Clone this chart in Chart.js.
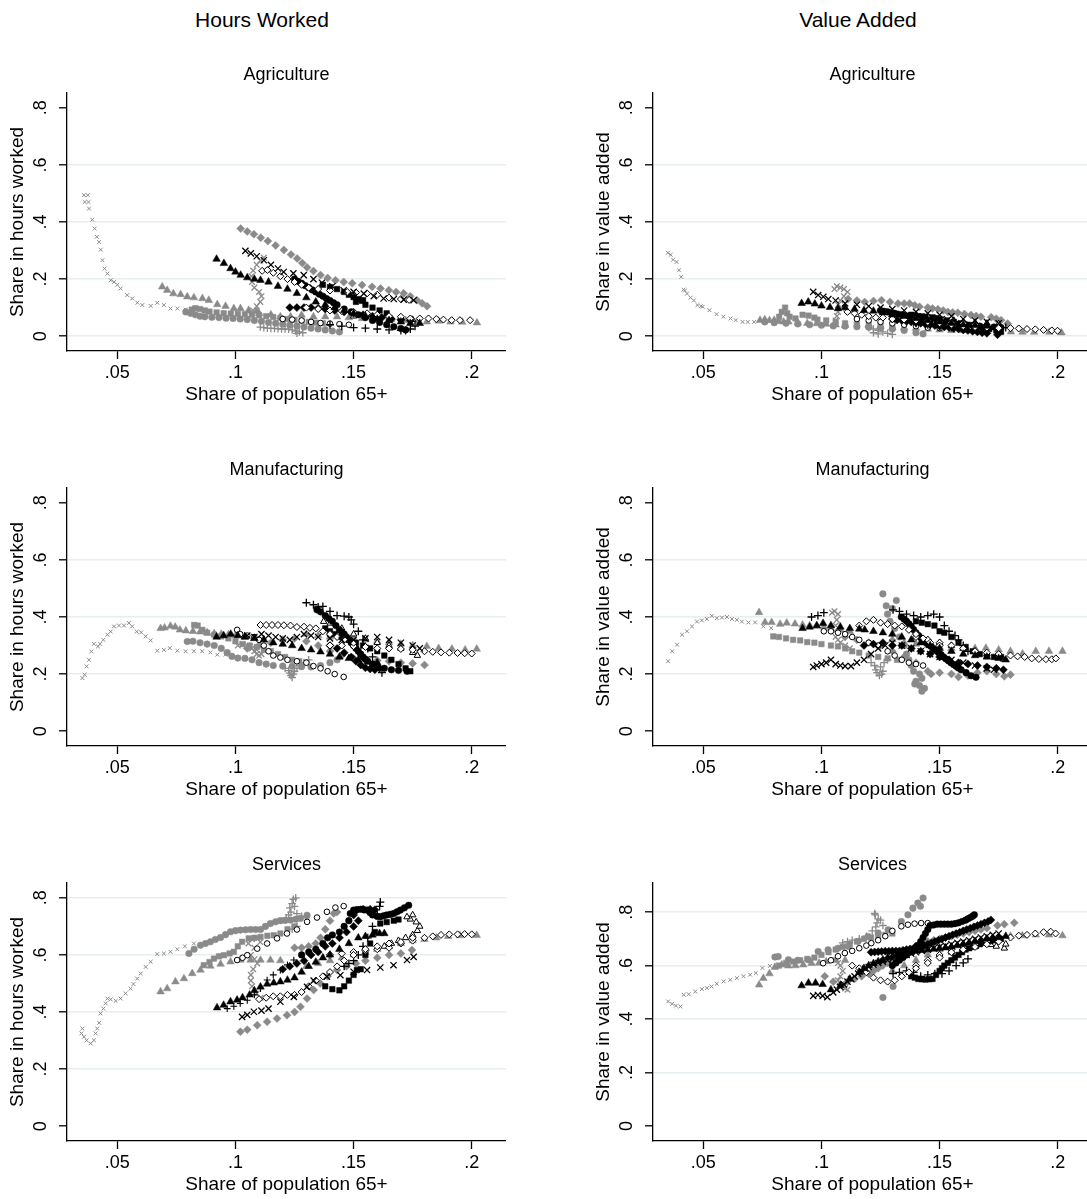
<!DOCTYPE html>
<html>
<head>
<meta charset="utf-8">
<script src="https://cdn.jsdelivr.net/npm/chart.js@4.4.1/dist/chart.umd.min.js"></script>
<style>
  body { margin:0; background:#fff; width:1087px; height:1199px; overflow:hidden; position:relative;
         font-family:"Liberation Sans", Arial, sans-serif; }
  .coltitle { position:absolute; top:8px; width:300px; text-align:center; font-size:21px; color:#000; }
  canvas { position:absolute; }
</style>
</head>
<body>
<div class="coltitle" style="left:112px">Hours Worked</div>
<div class="coltitle" style="left:708px">Value Added</div>

<canvas id="agriHours" width="506" height="347" style="left:0;top:62px"></canvas>
<canvas id="agriVA" width="506" height="347" style="left:586px;top:62px"></canvas>
<canvas id="manufHours" width="506" height="347" style="left:0;top:457px"></canvas>
<canvas id="manufVA" width="506" height="347" style="left:586px;top:457px"></canvas>
<canvas id="servHours" width="506" height="347" style="left:0;top:852px"></canvas>
<canvas id="servVA" width="506" height="347" style="left:586px;top:852px"></canvas>

<script>
// ticks
var xTickValues = [0.05, 0.1, 0.15, 0.2];
var xTickLabels = ['.05', '.1', '.15', '.2'];
var yTickValues = [0, 0.2, 0.4, 0.6, 0.8];
var yTickLabels = ['0', '.2', '.4', '.6', '.8'];

// ---- Agriculture, hours worked ----
var agriHours_grayX = [[0.0359,0.494],[0.0375,0.494],[0.0362,0.470],[0.0378,0.470],[0.038,0.447],[0.0394,0.408],[0.0404,0.377],[0.0413,0.348],[0.0423,0.330],[0.043,0.303],[0.0437,0.266],[0.0446,0.237],[0.0458,0.219],[0.0472,0.196],[0.0486,0.190],[0.050,0.180],[0.0514,0.167],[0.0542,0.144],[0.0563,0.132],[0.0585,0.117],[0.0606,0.109],[0.0641,0.106],[0.0669,0.117],[0.0697,0.109],[0.0725,0.097],[0.0754,0.097],[0.0789,0.093],[0.082,0.090]];
var agriHours_grayTriA = [[0.069,0.173],[0.0711,0.161],[0.0737,0.149],[0.0768,0.146],[0.0796,0.138],[0.0824,0.135],[0.086,0.132],[0.0887,0.126],[0.0923,0.111],[0.0958,0.105],[0.0993,0.097],[0.1021,0.097],[0.1056,0.091],[0.109,0.088]];
var agriHours_grayCirc = [[0.079,0.085],[0.081,0.08],[0.083,0.075],[0.085,0.07],[0.087,0.068],[0.09,0.066],[0.093,0.065],[0.096,0.063],[0.099,0.062],[0.102,0.06],[0.105,0.058],[0.108,0.055],[0.111,0.052],[0.114,0.048],[0.117,0.045],[0.12,0.042],[0.123,0.038],[0.126,0.035],[0.129,0.032],[0.132,0.028],[0.135,0.025],[0.138,0.022],[0.141,0.018],[0.144,0.015]];
var agriHours_graySq = [[0.0815,0.093],[0.083,0.098],[0.085,0.095],[0.087,0.09],[0.089,0.086],[0.092,0.083],[0.095,0.08],[0.098,0.079],[0.101,0.078],[0.104,0.077],[0.107,0.075],[0.11,0.073],[0.113,0.07],[0.116,0.067],[0.119,0.064],[0.122,0.06],[0.125,0.057],[0.128,0.053],[0.131,0.05],[0.134,0.047],[0.137,0.045]];
var agriHours_grayDia = [[0.1022,0.377],[0.105,0.367],[0.1078,0.357],[0.1107,0.345],[0.1137,0.333],[0.117,0.318],[0.1205,0.302],[0.1235,0.286],[0.1261,0.272],[0.1283,0.256],[0.1303,0.241],[0.133,0.228],[0.136,0.214],[0.139,0.204],[0.1423,0.196],[0.1458,0.19],[0.1494,0.185],[0.1536,0.179],[0.1578,0.173],[0.1614,0.167],[0.1649,0.161],[0.168,0.155],[0.1712,0.15],[0.174,0.14],[0.1768,0.126],[0.179,0.115],[0.1811,0.105]];
var agriHours_grayStar = [[0.1065,0.075],[0.1075,0.09],[0.109,0.105],[0.1105,0.12],[0.111,0.14],[0.110,0.155],[0.108,0.17],[0.107,0.19],[0.1068,0.21],[0.1075,0.23],[0.109,0.25],[0.1105,0.265],[0.112,0.275]];
var agriHours_grayPlus = [[0.1105,0.032],[0.112,0.03],[0.1135,0.028],[0.115,0.027],[0.1165,0.027],[0.118,0.026],[0.1195,0.025],[0.121,0.025],[0.1225,0.024],[0.124,0.022],[0.1255,0.018],[0.127,0.015],[0.1285,0.012],[0.126,0.01]];
var agriHours_grayTriB = [[0.110,0.080],[0.115,0.075],[0.119,0.068],[0.1233,0.068],[0.128,0.074],[0.133,0.068],[0.138,0.068],[0.143,0.068],[0.148,0.065],[0.1536,0.062],[0.16,0.06],[0.166,0.058],[0.172,0.055],[0.177,0.052],[0.181,0.05],[0.186,0.053],[0.191,0.05],[0.196,0.049],[0.2022,0.047]];
var agriHours_blackTri = [[0.092,0.27],[0.0951,0.255],[0.0979,0.237],[0.100,0.225],[0.1022,0.214],[0.105,0.205],[0.108,0.2],[0.1106,0.196],[0.114,0.19],[0.118,0.175],[0.122,0.165],[0.126,0.15],[0.130,0.135],[0.134,0.12],[0.138,0.11],[0.142,0.1],[0.146,0.09],[0.15,0.08],[0.155,0.07],[0.16,0.06],[0.165,0.055],[0.17,0.05],[0.174,0.045],[0.178,0.045]];
var agriHours_blackX = [[0.1042,0.299],[0.1065,0.29],[0.109,0.28],[0.112,0.266],[0.115,0.25],[0.118,0.237],[0.1204,0.225],[0.1245,0.22],[0.1289,0.214],[0.133,0.2],[0.1366,0.187],[0.141,0.175],[0.1458,0.161],[0.15,0.155],[0.1543,0.149],[0.1585,0.14],[0.1627,0.132],[0.167,0.13],[0.1712,0.128],[0.1754,0.126]];
var agriHours_hollowDiaA = [[0.1113,0.229],[0.1135,0.232],[0.116,0.222],[0.119,0.21],[0.122,0.2],[0.125,0.19],[0.128,0.18],[0.131,0.17],[0.135,0.165],[0.14,0.16],[0.1473,0.155],[0.151,0.153],[0.1557,0.15],[0.16,0.145],[0.165,0.135],[0.17,0.13],[0.1735,0.127]];
var agriHours_hollowDiaB = [[0.13,0.1],[0.135,0.095],[0.14,0.09],[0.145,0.088],[0.15,0.085],[0.1557,0.08],[0.16,0.075],[0.165,0.07],[0.17,0.068],[0.174,0.062],[0.178,0.062],[0.1817,0.062],[0.185,0.06],[0.188,0.058],[0.1915,0.056],[0.195,0.056],[0.1993,0.056]];
var agriHours_blackCirc = [[0.125,0.2],[0.1265,0.192],[0.128,0.185],[0.1295,0.177],[0.131,0.17],[0.1325,0.162],[0.134,0.155],[0.1355,0.147],[0.137,0.14],[0.1385,0.132],[0.14,0.125],[0.1415,0.117],[0.143,0.11],[0.146,0.095],[0.149,0.085],[0.152,0.075],[0.155,0.065],[0.158,0.055],[0.161,0.048],[0.164,0.04],[0.167,0.033],[0.17,0.027],[0.172,0.022]];
var agriHours_blackSq = [[0.137,0.18],[0.14,0.172],[0.143,0.165],[0.146,0.155],[0.148,0.145],[0.15,0.137],[0.152,0.13],[0.154,0.126],[0.1535,0.124],[0.151,0.12],[0.155,0.11],[0.158,0.1],[0.161,0.09],[0.164,0.08]];
var agriHours_blackDia = [[0.123,0.1],[0.126,0.1],[0.129,0.1],[0.132,0.1],[0.135,0.098],[0.138,0.095],[0.142,0.09],[0.146,0.085],[0.15,0.08],[0.154,0.075],[0.158,0.07],[0.162,0.065],[0.166,0.06],[0.17,0.058],[0.174,0.055]];
var agriHours_blackPlus = [[0.14,0.04],[0.145,0.035],[0.15,0.03],[0.155,0.028],[0.16,0.025],[0.165,0.022],[0.17,0.02],[0.172,0.02],[0.174,0.025],[0.176,0.035]];
var agriHours_hollowCirc = [[0.12,0.06],[0.124,0.058],[0.128,0.055],[0.132,0.05],[0.136,0.046],[0.14,0.044],[0.144,0.042],[0.148,0.04]];
var agriHours_hollowTri = [[0.15,0.07],[0.155,0.068],[0.16,0.065],[0.165,0.062],[0.17,0.06],[0.175,0.058]];

// ---- Agriculture, value added ----
var agriVA_grayX = [[0.035,0.292],[0.0362,0.285],[0.0372,0.268],[0.0387,0.26],[0.0397,0.231],[0.0406,0.208],[0.0416,0.163],[0.0422,0.16],[0.0431,0.149],[0.0446,0.135],[0.046,0.125],[0.0475,0.109],[0.049,0.105],[0.0497,0.103],[0.0526,0.091],[0.0556,0.077],[0.0585,0.068],[0.0615,0.062],[0.0637,0.056],[0.0666,0.05],[0.0688,0.05],[0.0715,0.05]];
var agriVA_grayTriA = [[0.074,0.056],[0.076,0.058],[0.078,0.055],[0.08,0.056],[0.082,0.052],[0.084,0.05],[0.086,0.05],[0.09,0.047],[0.094,0.045],[0.098,0.044],[0.102,0.042],[0.106,0.04],[0.11,0.038]];
var agriVA_grayCirc = [[0.076,0.05],[0.08,0.047],[0.085,0.045],[0.09,0.043],[0.095,0.04],[0.1,0.038],[0.105,0.036],[0.11,0.035],[0.115,0.033],[0.12,0.031],[0.125,0.028],[0.13,0.025],[0.135,0.02],[0.14,0.012],[0.143,0.008]];
var agriVA_graySq = [[0.0821,0.068],[0.0832,0.085],[0.0846,0.1],[0.0855,0.08],[0.0865,0.068],[0.089,0.062],[0.092,0.075],[0.0945,0.072],[0.097,0.065],[0.0983,0.058],[0.102,0.055],[0.106,0.05],[0.11,0.045],[0.115,0.042],[0.12,0.04],[0.125,0.037],[0.13,0.035]];
var agriVA_grayDia = [[0.1113,0.13],[0.115,0.125],[0.1183,0.12],[0.122,0.123],[0.1254,0.126],[0.129,0.12],[0.1324,0.114],[0.135,0.114],[0.1373,0.114],[0.1395,0.108],[0.1415,0.103],[0.145,0.1],[0.147,0.097],[0.1493,0.094],[0.1515,0.09],[0.1535,0.085],[0.1555,0.083],[0.1577,0.082],[0.1605,0.078],[0.1633,0.074],[0.1655,0.071],[0.1675,0.068],[0.1718,0.066],[0.174,0.061],[0.176,0.056],[0.1788,0.044]];
var agriVA_grayStar = [[0.1055,0.165],[0.1065,0.175],[0.108,0.17],[0.1095,0.165],[0.111,0.155],[0.1095,0.14],[0.108,0.125],[0.107,0.11],[0.1085,0.1],[0.107,0.085],[0.1065,0.07],[0.106,0.055]];
var agriVA_grayPlus = [[0.12,0.03],[0.122,0.025],[0.124,0.02],[0.126,0.015],[0.128,0.01],[0.13,0.006],[0.124,0.008],[0.122,0.012]];
var agriVA_grayTriB = [[0.12,0.04],[0.125,0.035],[0.13,0.03],[0.135,0.03],[0.14,0.028],[0.145,0.025],[0.15,0.022],[0.155,0.02],[0.16,0.02],[0.165,0.018],[0.17,0.017],[0.175,0.016],[0.1802,0.015],[0.1851,0.014],[0.19,0.014],[0.1964,0.014],[0.2016,0.012]];
var agriVA_blackTri = [[0.0916,0.115],[0.0944,0.12],[0.0972,0.113],[0.1,0.106],[0.1036,0.101],[0.107,0.097],[0.11,0.1],[0.114,0.095],[0.118,0.09],[0.122,0.088],[0.126,0.082],[0.13,0.075],[0.135,0.07],[0.14,0.062],[0.145,0.055],[0.15,0.05],[0.155,0.045],[0.16,0.04],[0.165,0.038],[0.17,0.035]];
var agriVA_blackX = [[0.0965,0.155],[0.0986,0.144],[0.1008,0.138],[0.1029,0.13],[0.106,0.125],[0.11,0.115],[0.115,0.11],[0.12,0.105],[0.125,0.1],[0.13,0.095],[0.135,0.09],[0.14,0.085],[0.145,0.08],[0.15,0.075],[0.155,0.07],[0.16,0.06],[0.165,0.055],[0.17,0.05],[0.175,0.045]];
var agriVA_hollowDiaA = [[0.111,0.085],[0.114,0.08],[0.117,0.075],[0.12,0.07],[0.123,0.065],[0.126,0.065],[0.13,0.06],[0.135,0.058],[0.14,0.055],[0.145,0.05],[0.15,0.045],[0.155,0.04],[0.16,0.035],[0.165,0.032],[0.17,0.03],[0.175,0.028]];
var agriVA_hollowDiaB = [[0.13,0.07],[0.135,0.065],[0.14,0.06],[0.145,0.055],[0.15,0.05],[0.155,0.047],[0.16,0.045],[0.165,0.04],[0.17,0.035],[0.175,0.032],[0.18,0.028],[0.1835,0.027],[0.187,0.025],[0.1905,0.024],[0.194,0.022],[0.1975,0.02],[0.1999,0.019]];
var agriVA_blackCirc = [[0.125,0.09],[0.1265,0.087],[0.128,0.085],[0.1295,0.082],[0.131,0.08],[0.1325,0.077],[0.134,0.075],[0.1355,0.072],[0.137,0.07],[0.1385,0.067],[0.14,0.065],[0.1415,0.062],[0.143,0.06],[0.1445,0.057],[0.146,0.055],[0.149,0.05],[0.152,0.048],[0.155,0.045],[0.158,0.042],[0.161,0.04],[0.164,0.038],[0.167,0.035],[0.17,0.033],[0.173,0.032],[0.176,0.03]];
var agriVA_blackSq = [[0.138,0.075],[0.1395,0.072],[0.141,0.07],[0.1425,0.069],[0.144,0.068],[0.147,0.066],[0.1485,0.063],[0.15,0.06],[0.153,0.055],[0.156,0.05],[0.159,0.045],[0.162,0.04],[0.165,0.035],[0.168,0.03],[0.171,0.025],[0.174,0.02],[0.176,0.015]];
var agriVA_blackDia = [[0.13,0.06],[0.132,0.057],[0.134,0.055],[0.136,0.052],[0.138,0.05],[0.14,0.047],[0.142,0.045],[0.144,0.042],[0.146,0.04],[0.148,0.037],[0.15,0.035],[0.152,0.032],[0.154,0.03],[0.156,0.027],[0.158,0.025],[0.16,0.022],[0.162,0.02],[0.164,0.017],[0.166,0.015],[0.168,0.012],[0.17,0.01],[0.1745,0.005]];
var agriVA_blackPlus = [[0.14,0.045],[0.145,0.04],[0.15,0.035],[0.155,0.03],[0.16,0.028],[0.165,0.025],[0.17,0.022],[0.175,0.02],[0.178,0.03]];
var agriVA_hollowCirc = [[0.115,0.06],[0.12,0.055],[0.125,0.05],[0.13,0.045],[0.135,0.04],[0.14,0.035],[0.145,0.03],[0.15,0.028]];
var agriVA_hollowTri = [[0.148,0.06],[0.152,0.058],[0.156,0.055],[0.16,0.05],[0.165,0.048],[0.17,0.045],[0.175,0.043]];

// ---- Manufacturing, hours worked ----
var manufHours_grayX = [[0.0352,0.186],[0.0362,0.198],[0.037,0.227],[0.038,0.25],[0.039,0.279],[0.0401,0.306],[0.0418,0.297],[0.0427,0.306],[0.0441,0.32],[0.0458,0.338],[0.0472,0.349],[0.0486,0.367],[0.0507,0.37],[0.0528,0.37],[0.0549,0.379],[0.0563,0.367],[0.0582,0.349],[0.0601,0.346],[0.062,0.332],[0.0641,0.318],[0.0669,0.282],[0.0697,0.285],[0.0722,0.291],[0.0754,0.282],[0.0789,0.28],[0.0824,0.28],[0.0859,0.28],[0.0894,0.276],[0.0923,0.268],[0.0958,0.268]];
var manufHours_grayTriA = [[0.0683,0.36],[0.07,0.362],[0.0725,0.368],[0.0745,0.365],[0.0765,0.355],[0.079,0.352],[0.082,0.35],[0.085,0.348],[0.088,0.345],[0.091,0.342],[0.094,0.34],[0.097,0.338],[0.1,0.335],[0.104,0.33],[0.108,0.325],[0.112,0.32]];
var manufHours_grayCirc = [[0.0796,0.314],[0.082,0.315],[0.085,0.31],[0.088,0.305],[0.091,0.3],[0.094,0.29],[0.0965,0.275],[0.0985,0.262],[0.101,0.256],[0.104,0.255],[0.107,0.25],[0.11,0.24],[0.113,0.235],[0.116,0.23],[0.12,0.228],[0.124,0.227],[0.128,0.226],[0.132,0.225],[0.136,0.23],[0.14,0.24],[0.143,0.25]];
var manufHours_graySq = [[0.0825,0.372],[0.084,0.37],[0.086,0.355],[0.088,0.345],[0.091,0.338],[0.094,0.332],[0.097,0.325],[0.1,0.315],[0.103,0.305],[0.106,0.3],[0.109,0.295],[0.112,0.285],[0.115,0.28],[0.118,0.27],[0.121,0.26],[0.124,0.25],[0.127,0.245],[0.13,0.24]];
var manufHours_grayDia = [[0.105,0.29],[0.11,0.3],[0.115,0.31],[0.12,0.32],[0.125,0.325],[0.13,0.315],[0.135,0.3],[0.14,0.28],[0.145,0.265],[0.15,0.255],[0.155,0.25],[0.16,0.248],[0.165,0.245],[0.17,0.24],[0.175,0.237],[0.18,0.232]];
var manufHours_grayStar = [[0.101,0.3],[0.103,0.305],[0.105,0.3],[0.107,0.29],[0.108,0.28],[0.109,0.27],[0.11,0.265],[0.111,0.27],[0.109,0.285],[0.106,0.295]];
var manufHours_grayPlus = [[0.121,0.22],[0.1225,0.212],[0.123,0.203],[0.1235,0.195],[0.124,0.188],[0.1245,0.2],[0.125,0.21],[0.126,0.22],[0.127,0.23],[0.129,0.24],[0.131,0.25]];
var manufHours_grayTriB = [[0.13,0.34],[0.135,0.335],[0.14,0.33],[0.145,0.328],[0.15,0.325],[0.155,0.32],[0.16,0.315],[0.165,0.31],[0.17,0.305],[0.175,0.3],[0.181,0.297],[0.186,0.29],[0.1916,0.288],[0.1972,0.285],[0.2021,0.288]];
var manufHours_blackTri = [[0.092,0.33],[0.095,0.335],[0.098,0.34],[0.101,0.335],[0.104,0.33],[0.108,0.325],[0.112,0.32],[0.116,0.31],[0.12,0.305],[0.124,0.3],[0.128,0.29],[0.132,0.285],[0.136,0.278],[0.14,0.27],[0.144,0.26],[0.148,0.255],[0.152,0.25],[0.156,0.245],[0.16,0.24]];
var manufHours_blackX = [[0.105,0.335],[0.108,0.33],[0.111,0.34],[0.114,0.335],[0.117,0.33],[0.12,0.325],[0.123,0.32],[0.126,0.33],[0.129,0.34],[0.132,0.335],[0.135,0.33],[0.14,0.325],[0.145,0.32],[0.15,0.32],[0.155,0.325],[0.16,0.33],[0.165,0.32],[0.17,0.31],[0.175,0.3],[0.178,0.29]];
var manufHours_hollowDiaA = [[0.1106,0.372],[0.113,0.372],[0.1155,0.372],[0.118,0.372],[0.1205,0.371],[0.1233,0.37],[0.126,0.365],[0.129,0.366],[0.1315,0.362],[0.134,0.36],[0.137,0.35],[0.14,0.34],[0.143,0.33],[0.146,0.32],[0.15,0.31]];
var manufHours_hollowDiaB = [[0.14,0.3],[0.145,0.3],[0.15,0.298],[0.155,0.295],[0.16,0.29],[0.165,0.29],[0.17,0.288],[0.175,0.285],[0.18,0.28],[0.1835,0.278],[0.187,0.276],[0.1905,0.275],[0.194,0.274],[0.197,0.273],[0.2,0.272]];
var manufHours_blackCirc = [[0.1345,0.425],[0.136,0.418],[0.138,0.405],[0.1395,0.395],[0.141,0.385],[0.1425,0.37],[0.144,0.355],[0.145,0.347],[0.146,0.34],[0.147,0.33],[0.148,0.32],[0.149,0.31],[0.15,0.3],[0.151,0.29],[0.152,0.28],[0.153,0.27],[0.154,0.26],[0.155,0.252],[0.156,0.245],[0.158,0.235],[0.16,0.225],[0.163,0.22],[0.166,0.215],[0.169,0.213],[0.1726,0.21]];
var manufHours_blackSq = [[0.138,0.36],[0.14,0.35],[0.142,0.34],[0.145,0.33],[0.148,0.32],[0.151,0.31],[0.154,0.3],[0.157,0.29],[0.16,0.28],[0.163,0.265],[0.166,0.25],[0.169,0.235],[0.172,0.22],[0.174,0.21]];
var manufHours_blackDia = [[0.14,0.3],[0.143,0.29],[0.146,0.275],[0.149,0.26],[0.151,0.245],[0.153,0.232],[0.155,0.222],[0.157,0.218],[0.159,0.215],[0.161,0.22]];
var manufHours_blackPlus = [[0.13,0.45],[0.133,0.443],[0.135,0.435],[0.137,0.437],[0.14,0.42],[0.143,0.405],[0.146,0.403],[0.148,0.4],[0.149,0.39],[0.15,0.375],[0.152,0.35],[0.154,0.32],[0.156,0.29],[0.158,0.26],[0.16,0.23],[0.162,0.205]];
var manufHours_hollowCirc = [[0.1007,0.355],[0.102,0.34],[0.105,0.335],[0.108,0.33],[0.11,0.32],[0.112,0.3],[0.114,0.28],[0.116,0.265],[0.119,0.258],[0.122,0.25],[0.126,0.245],[0.13,0.24],[0.133,0.228],[0.136,0.22],[0.139,0.21],[0.142,0.2],[0.1458,0.19]];
var manufHours_hollowTri = [[0.1373,0.384],[0.1401,0.378],[0.145,0.36],[0.15,0.34],[0.155,0.325],[0.16,0.31],[0.165,0.3],[0.17,0.29],[0.175,0.275],[0.177,0.265]];

// ---- Manufacturing, value added ----
var manufVA_grayX = [[0.0351,0.245],[0.0368,0.28],[0.0389,0.303],[0.041,0.338],[0.0431,0.35],[0.0452,0.367],[0.0473,0.384],[0.0494,0.388],[0.0515,0.393],[0.0536,0.404],[0.0557,0.396],[0.0579,0.398],[0.06,0.4],[0.0621,0.393],[0.0642,0.39],[0.0663,0.384],[0.0691,0.381],[0.0719,0.381],[0.0754,0.367],[0.0787,0.361]];
var manufVA_grayTriA = [[0.0736,0.416],[0.0761,0.381],[0.0789,0.381],[0.0825,0.375],[0.0853,0.379],[0.0888,0.376],[0.092,0.372],[0.095,0.37],[0.098,0.368],[0.101,0.365],[0.104,0.36],[0.108,0.355],[0.112,0.35]];
var manufVA_grayCirc = [[0.126,0.481],[0.1274,0.439],[0.1317,0.458],[0.13,0.43],[0.128,0.41],[0.129,0.385],[0.131,0.36],[0.133,0.33],[0.135,0.3],[0.136,0.27],[0.137,0.25],[0.138,0.23],[0.139,0.21],[0.1415,0.2],[0.1425,0.185],[0.14,0.175],[0.1395,0.165],[0.1415,0.16],[0.1436,0.15],[0.1425,0.14]];
var manufVA_graySq = [[0.0796,0.332],[0.082,0.33],[0.085,0.325],[0.088,0.32],[0.091,0.318],[0.094,0.312],[0.097,0.31],[0.1,0.305],[0.104,0.3],[0.107,0.297],[0.11,0.29],[0.113,0.28],[0.116,0.275],[0.12,0.265],[0.124,0.26],[0.128,0.255],[0.132,0.25]];
var manufVA_grayDia = [[0.11,0.33],[0.115,0.32],[0.12,0.31],[0.125,0.3],[0.13,0.28],[0.135,0.26],[0.14,0.24],[0.145,0.21],[0.1464,0.2],[0.15,0.205],[0.155,0.2],[0.158,0.19],[0.162,0.195],[0.166,0.205],[0.17,0.21],[0.174,0.2],[0.1774,0.192],[0.18,0.198]];
var manufVA_grayStar = [[0.1045,0.415],[0.1055,0.42],[0.107,0.41],[0.1065,0.39],[0.106,0.37],[0.1055,0.35],[0.106,0.33],[0.107,0.32],[0.108,0.31],[0.11,0.3],[0.112,0.29]];
var manufVA_grayPlus = [[0.121,0.24],[0.1225,0.23],[0.123,0.215],[0.1235,0.205],[0.1245,0.195],[0.1255,0.2],[0.126,0.21],[0.125,0.225],[0.1265,0.24],[0.128,0.25]];
var manufVA_grayTriB = [[0.13,0.32],[0.135,0.31],[0.14,0.305],[0.145,0.3],[0.15,0.295],[0.155,0.29],[0.16,0.29],[0.165,0.29],[0.1696,0.291],[0.175,0.285],[0.18,0.28],[0.1851,0.271],[0.1907,0.28],[0.1963,0.28],[0.202,0.28]];
var manufVA_blackTri = [[0.092,0.36],[0.095,0.365],[0.098,0.37],[0.1007,0.378],[0.104,0.37],[0.108,0.365],[0.112,0.36],[0.116,0.358],[0.1183,0.355],[0.122,0.35],[0.126,0.345],[0.13,0.34],[0.134,0.33],[0.138,0.32],[0.142,0.31],[0.146,0.3],[0.15,0.29],[0.155,0.28],[0.16,0.27],[0.165,0.265],[0.17,0.26],[0.175,0.255],[0.178,0.25]];
var manufVA_blackX = [[0.0965,0.225],[0.098,0.23],[0.1,0.235],[0.102,0.24],[0.104,0.25],[0.106,0.235],[0.108,0.23],[0.11,0.228],[0.1125,0.228],[0.115,0.24],[0.118,0.25],[0.121,0.27],[0.124,0.29],[0.127,0.3],[0.13,0.31],[0.134,0.3],[0.138,0.29],[0.142,0.28],[0.146,0.27],[0.15,0.26],[0.155,0.25],[0.16,0.24],[0.165,0.23],[0.17,0.22],[0.173,0.215]];
var manufVA_hollowDiaA = [[0.116,0.37],[0.119,0.385],[0.122,0.39],[0.125,0.38],[0.128,0.375],[0.131,0.37],[0.134,0.367],[0.137,0.355],[0.14,0.34],[0.143,0.325],[0.146,0.31],[0.15,0.3]];
var manufVA_hollowDiaB = [[0.14,0.33],[0.145,0.32],[0.15,0.31],[0.155,0.3],[0.16,0.29],[0.165,0.28],[0.17,0.275],[0.175,0.27],[0.18,0.265],[0.183,0.262],[0.186,0.26],[0.189,0.255],[0.192,0.253],[0.195,0.252],[0.1975,0.252],[0.1992,0.255]];
var manufVA_blackCirc = [[0.1338,0.4],[0.135,0.392],[0.136,0.385],[0.137,0.376],[0.138,0.367],[0.139,0.356],[0.14,0.345],[0.1411,0.335],[0.1422,0.326],[0.1433,0.318],[0.1443,0.31],[0.1454,0.303],[0.1464,0.297],[0.1475,0.289],[0.1485,0.282],[0.1496,0.275],[0.1506,0.268],[0.1517,0.26],[0.1527,0.253],[0.1538,0.246],[0.1549,0.239],[0.156,0.233],[0.157,0.227],[0.158,0.221],[0.1591,0.215],[0.1612,0.205],[0.1633,0.194],[0.1654,0.189]];
var manufVA_blackSq = [[0.14,0.385],[0.1425,0.38],[0.145,0.375],[0.1478,0.37],[0.15,0.35],[0.152,0.345],[0.155,0.33],[0.158,0.31],[0.161,0.295],[0.164,0.28],[0.167,0.27],[0.17,0.265],[0.173,0.26],[0.176,0.26]];
var manufVA_blackDia = [[0.118,0.3],[0.122,0.305],[0.126,0.31],[0.13,0.3],[0.134,0.3],[0.138,0.29],[0.142,0.28],[0.146,0.27],[0.15,0.26],[0.154,0.25],[0.158,0.24],[0.162,0.235],[0.166,0.23],[0.17,0.225],[0.174,0.22],[0.177,0.215]];
var manufVA_blackPlus = [[0.0958,0.4],[0.0985,0.405],[0.101,0.415],[0.1303,0.425],[0.133,0.42],[0.136,0.41],[0.139,0.405],[0.142,0.4],[0.145,0.405],[0.1475,0.41],[0.15,0.4],[0.152,0.37],[0.154,0.35],[0.1565,0.335],[0.158,0.32],[0.16,0.3],[0.162,0.28]];
var manufVA_hollowCirc = [[0.101,0.35],[0.104,0.35],[0.107,0.345],[0.11,0.34],[0.113,0.33],[0.116,0.32],[0.12,0.31],[0.124,0.3],[0.128,0.28],[0.131,0.265],[0.134,0.25],[0.137,0.24],[0.14,0.235],[0.143,0.23]];
var manufVA_hollowTri = [[0.14,0.33],[0.145,0.32],[0.15,0.31],[0.155,0.3],[0.16,0.29],[0.165,0.28],[0.17,0.27],[0.174,0.26],[0.177,0.252]];

// ---- Services, hours worked ----
var servHours_grayX = [[0.0352,0.342],[0.0348,0.325],[0.0359,0.313],[0.037,0.301],[0.0387,0.29],[0.0401,0.301],[0.0408,0.325],[0.0415,0.342],[0.0423,0.362],[0.0429,0.395],[0.0441,0.412],[0.0451,0.43],[0.0458,0.447],[0.0472,0.444],[0.0493,0.439],[0.0514,0.447],[0.0535,0.465],[0.0556,0.482],[0.0568,0.498],[0.0584,0.517],[0.0599,0.535],[0.062,0.558],[0.0641,0.576],[0.0669,0.603],[0.0697,0.605],[0.0725,0.611],[0.0754,0.62],[0.0786,0.63],[0.0824,0.64]];
var servHours_grayTriA = [[0.0683,0.471],[0.0711,0.482],[0.0746,0.506],[0.0782,0.517],[0.0817,0.535],[0.0852,0.547],[0.0894,0.561],[0.0937,0.568],[0.0979,0.576],[0.1021,0.582],[0.1064,0.582],[0.1106,0.582],[0.1148,0.582],[0.119,0.58]];
var servHours_grayCirc = [[0.0803,0.605],[0.0825,0.62],[0.0852,0.634],[0.0873,0.64],[0.0894,0.646],[0.0915,0.654],[0.0937,0.661],[0.0958,0.671],[0.0979,0.681],[0.1,0.685],[0.1021,0.687],[0.1043,0.688],[0.1064,0.689],[0.1085,0.689],[0.1106,0.689],[0.1127,0.7],[0.1148,0.71],[0.117,0.716],[0.119,0.72],[0.121,0.721],[0.1233,0.722],[0.1255,0.725],[0.1275,0.728],[0.1303,0.739]];
var servHours_graySq = [[0.0866,0.564],[0.089,0.575],[0.0909,0.587],[0.093,0.595],[0.0951,0.599],[0.0975,0.605],[0.0993,0.611],[0.101,0.63],[0.1028,0.646],[0.1056,0.658],[0.108,0.66],[0.1106,0.663],[0.1135,0.667],[0.1162,0.669],[0.119,0.675],[0.122,0.69],[0.125,0.7]];
var servHours_grayDia = [[0.1021,0.331],[0.105,0.338],[0.1092,0.354],[0.1134,0.366],[0.1176,0.377],[0.1218,0.389],[0.125,0.4],[0.1275,0.418],[0.1303,0.447],[0.1331,0.477],[0.1359,0.5],[0.139,0.525],[0.143,0.547],[0.147,0.56],[0.151,0.57],[0.155,0.58],[0.16,0.59],[0.165,0.6],[0.17,0.605],[0.1747,0.617]];
var servHours_grayDia2 = [[0.125,0.625],[0.128,0.625],[0.131,0.63],[0.134,0.64],[0.136,0.66],[0.138,0.69],[0.14,0.72],[0.1416,0.745],[0.143,0.75]];
var servHours_grayStar = [[0.1055,0.64],[0.107,0.655],[0.109,0.66],[0.1105,0.645],[0.108,0.625],[0.1065,0.6],[0.108,0.585],[0.1092,0.57],[0.1075,0.55],[0.1065,0.53],[0.1065,0.51],[0.107,0.49],[0.109,0.465],[0.1106,0.45]];
var servHours_grayPlus = [[0.1215,0.73],[0.1225,0.74],[0.1235,0.75],[0.123,0.765],[0.124,0.78],[0.1245,0.795],[0.1255,0.8],[0.125,0.77],[0.126,0.745],[0.128,0.735],[0.13,0.73],[0.126,0.7],[0.124,0.69]];
var servHours_grayTriB = [[0.13,0.56],[0.135,0.57],[0.14,0.58],[0.145,0.59],[0.15,0.6],[0.155,0.61],[0.16,0.62],[0.165,0.63],[0.17,0.64],[0.175,0.65],[0.18,0.655],[0.185,0.66],[0.19,0.665],[0.195,0.668],[0.2021,0.669]];
var servHours_blackTri = [[0.0922,0.415],[0.095,0.424],[0.0979,0.436],[0.1007,0.442],[0.103,0.45],[0.106,0.46],[0.108,0.475],[0.1106,0.488],[0.1134,0.498],[0.1162,0.502],[0.119,0.506],[0.122,0.512],[0.125,0.52],[0.128,0.54],[0.131,0.56],[0.134,0.575],[0.137,0.59],[0.14,0.6],[0.144,0.62],[0.148,0.64],[0.152,0.66],[0.155,0.665],[0.158,0.67],[0.161,0.675],[0.163,0.675]];
var servHours_blackX = [[0.1028,0.383],[0.105,0.39],[0.1078,0.401],[0.111,0.405],[0.114,0.412],[0.119,0.436],[0.1247,0.453],[0.1303,0.488],[0.1331,0.51],[0.1387,0.524],[0.1444,0.529],[0.15,0.541],[0.1557,0.547],[0.1613,0.556],[0.1669,0.564],[0.1726,0.582],[0.1754,0.593]];
var servHours_hollowDiaA = [[0.11,0.445],[0.113,0.45],[0.116,0.455],[0.119,0.455],[0.122,0.46],[0.125,0.46],[0.128,0.47],[0.131,0.49],[0.134,0.51],[0.137,0.525],[0.14,0.54],[0.143,0.56],[0.146,0.58],[0.15,0.6],[0.155,0.62],[0.16,0.63],[0.165,0.64],[0.17,0.645],[0.175,0.66]];
var servHours_hollowDiaB = [[0.14,0.6],[0.145,0.605],[0.15,0.61],[0.155,0.615],[0.16,0.62],[0.165,0.625],[0.17,0.64],[0.175,0.65],[0.18,0.66],[0.1835,0.665],[0.187,0.67],[0.1905,0.672],[0.194,0.672],[0.197,0.673],[0.2,0.672]];
var servHours_blackCirc = [[0.128,0.6],[0.131,0.61],[0.134,0.62],[0.137,0.64],[0.139,0.66],[0.141,0.67],[0.144,0.68],[0.146,0.7],[0.148,0.72],[0.1486,0.745],[0.15,0.757],[0.1515,0.759],[0.153,0.76],[0.1545,0.758],[0.1557,0.757],[0.157,0.748],[0.158,0.74],[0.16,0.735],[0.1613,0.734],[0.1627,0.737],[0.164,0.74],[0.1655,0.742],[0.1669,0.745],[0.1684,0.751],[0.1698,0.757],[0.1715,0.765],[0.1733,0.774]];
var servHours_blackSq = [[0.138,0.49],[0.141,0.48],[0.144,0.476],[0.146,0.49],[0.148,0.51],[0.15,0.53],[0.1514,0.547],[0.153,0.55],[0.155,0.6],[0.157,0.64],[0.159,0.68],[0.1613,0.71],[0.164,0.715],[0.167,0.72],[0.169,0.724]];
var servHours_blackDia = [[0.12,0.55],[0.123,0.56],[0.126,0.57],[0.129,0.58],[0.132,0.6],[0.135,0.61],[0.138,0.63],[0.141,0.64],[0.144,0.66],[0.147,0.68],[0.15,0.7],[0.152,0.72],[0.15,0.74],[0.151,0.755],[0.154,0.76],[0.157,0.76],[0.159,0.758]];
var servHours_blackPlus = [[0.146,0.56],[0.148,0.57],[0.15,0.58],[0.152,0.6],[0.154,0.63],[0.156,0.66],[0.158,0.7],[0.16,0.74],[0.161,0.77],[0.1613,0.785]];
var servHours_blackPlus2 = [[0.0965,0.412],[0.0993,0.42],[0.102,0.43],[0.105,0.441],[0.108,0.46],[0.1106,0.482],[0.1134,0.512],[0.116,0.53],[0.119,0.547],[0.122,0.565],[0.1247,0.582]];
var servHours_hollowCirc = [[0.1007,0.582],[0.103,0.59],[0.105,0.599],[0.1092,0.622],[0.1134,0.64],[0.1176,0.658],[0.1218,0.675],[0.126,0.689],[0.1303,0.716],[0.1345,0.731],[0.1387,0.751],[0.1423,0.766],[0.1458,0.771]];
var servHours_hollowTri = [[0.163,0.63],[0.166,0.64],[0.169,0.65],[0.172,0.66],[0.175,0.67],[0.177,0.685],[0.178,0.7],[0.1765,0.715],[0.174,0.725],[0.1726,0.733],[0.175,0.74]];

// ---- Services, value added ----
var servVA_grayX = [[0.0351,0.466],[0.0368,0.457],[0.0384,0.45],[0.0403,0.447],[0.0417,0.491],[0.0438,0.493],[0.0466,0.503],[0.0494,0.512],[0.0515,0.516],[0.0535,0.522],[0.0557,0.532],[0.0586,0.541],[0.0614,0.547],[0.0642,0.553],[0.067,0.56],[0.0698,0.566],[0.0722,0.572],[0.075,0.591],[0.0782,0.599]];
var servVA_grayTriA = [[0.0736,0.528],[0.0754,0.553],[0.078,0.57],[0.0803,0.594],[0.0832,0.603],[0.086,0.599],[0.089,0.6],[0.0923,0.603],[0.0958,0.609],[0.099,0.61],[0.102,0.615],[0.106,0.62],[0.11,0.62]];
var servVA_grayCirc = [[0.0803,0.632],[0.0817,0.634],[0.086,0.622],[0.09,0.62],[0.0944,0.622],[0.0986,0.653],[0.1028,0.659],[0.107,0.665],[0.1113,0.672],[0.1155,0.691],[0.1197,0.709],[0.124,0.722],[0.1282,0.734],[0.1338,0.765],[0.1366,0.79],[0.1387,0.815],[0.1408,0.834],[0.143,0.853],[0.1419,0.822]];
var servVA_grayCirc2 = [[0.126,0.481],[0.1303,0.522]];
var servVA_graySq = [[0.082,0.6],[0.085,0.61],[0.088,0.615],[0.091,0.62],[0.094,0.625],[0.097,0.63],[0.1,0.64],[0.103,0.65],[0.106,0.66],[0.109,0.67],[0.112,0.68],[0.115,0.69],[0.118,0.7],[0.121,0.705],[0.124,0.71],[0.127,0.715],[0.13,0.72]];
var servVA_grayDia = [[0.1014,0.56],[0.105,0.54],[0.108,0.53],[0.111,0.54],[0.114,0.55],[0.117,0.56],[0.12,0.57],[0.122,0.58],[0.124,0.59],[0.126,0.6],[0.128,0.61],[0.13,0.62],[0.132,0.63],[0.134,0.64],[0.136,0.65],[0.138,0.66],[0.14,0.67],[0.1425,0.68],[0.145,0.69],[0.1475,0.695],[0.15,0.7],[0.1525,0.705],[0.155,0.71],[0.1575,0.715],[0.16,0.72],[0.1625,0.725],[0.165,0.73],[0.1675,0.735],[0.17,0.74],[0.1745,0.75],[0.1774,0.755],[0.1816,0.76]];
var servVA_grayStar = [[0.106,0.62],[0.107,0.61],[0.108,0.6],[0.109,0.58],[0.108,0.56],[0.107,0.545],[0.1085,0.53],[0.11,0.515],[0.111,0.51],[0.1095,0.525]];
var servVA_grayPlus = [[0.109,0.685],[0.111,0.69],[0.113,0.695],[0.116,0.7],[0.119,0.71],[0.1215,0.73],[0.123,0.745],[0.1235,0.76],[0.124,0.775],[0.1228,0.79],[0.1225,0.795],[0.125,0.77],[0.126,0.75]];
var servVA_grayTriB = [[0.13,0.58],[0.135,0.6],[0.14,0.62],[0.145,0.64],[0.15,0.66],[0.155,0.67],[0.16,0.68],[0.165,0.69],[0.17,0.7],[0.175,0.705],[0.18,0.71],[0.185,0.712],[0.1907,0.715],[0.1963,0.715],[0.202,0.712]];
var servVA_blackTri = [[0.0916,0.525],[0.0945,0.535],[0.0975,0.535],[0.1005,0.53],[0.104,0.51],[0.108,0.525],[0.112,0.55],[0.116,0.575],[0.118,0.59],[0.12,0.6],[0.122,0.608],[0.124,0.615],[0.126,0.622],[0.128,0.63],[0.13,0.635],[0.132,0.64],[0.134,0.645],[0.136,0.65],[0.138,0.652],[0.14,0.655],[0.1425,0.657],[0.145,0.66],[0.1475,0.662],[0.15,0.665],[0.1525,0.667],[0.155,0.67],[0.1575,0.675],[0.16,0.68],[0.1625,0.685],[0.165,0.69],[0.1675,0.695],[0.17,0.7],[0.1725,0.702],[0.175,0.705],[0.178,0.71]];
var servVA_blackX = [[0.0965,0.487],[0.0985,0.49],[0.1005,0.487],[0.1025,0.482],[0.105,0.5],[0.1065,0.51],[0.108,0.52],[0.1095,0.53],[0.111,0.54],[0.1125,0.55],[0.114,0.56],[0.1155,0.57],[0.117,0.58],[0.1185,0.588],[0.12,0.595],[0.122,0.603],[0.124,0.61],[0.126,0.615],[0.128,0.62],[0.13,0.625],[0.132,0.63],[0.134,0.635],[0.136,0.64],[0.138,0.645],[0.14,0.65],[0.1425,0.655],[0.145,0.66],[0.1475,0.665],[0.15,0.67],[0.1525,0.675],[0.155,0.68],[0.1575,0.685],[0.16,0.69],[0.1625,0.695],[0.165,0.7],[0.1675,0.705],[0.17,0.71],[0.1725,0.715],[0.175,0.72]];
var servVA_hollowDiaA = [[0.113,0.6],[0.116,0.59],[0.119,0.575],[0.122,0.555],[0.125,0.545],[0.128,0.54],[0.131,0.545],[0.134,0.56],[0.137,0.575],[0.14,0.59],[0.145,0.61],[0.15,0.63],[0.155,0.65],[0.16,0.66],[0.165,0.67],[0.17,0.68],[0.175,0.69]];
var servVA_hollowDiaB = [[0.14,0.6],[0.145,0.62],[0.15,0.64],[0.155,0.66],[0.16,0.67],[0.165,0.68],[0.17,0.69],[0.175,0.7],[0.18,0.705],[0.1835,0.712],[0.187,0.715],[0.1905,0.72],[0.194,0.725],[0.197,0.727],[0.1991,0.72]];
var servVA_blackCirc = [[0.13,0.6],[0.1315,0.61],[0.133,0.62],[0.1345,0.63],[0.136,0.64],[0.1375,0.65],[0.139,0.66],[0.1405,0.675],[0.142,0.69],[0.143,0.705],[0.144,0.72],[0.145,0.735],[0.146,0.75],[0.1475,0.752],[0.149,0.755],[0.1505,0.755],[0.152,0.755],[0.1535,0.755],[0.155,0.755],[0.1565,0.757],[0.158,0.76],[0.1595,0.765],[0.161,0.77],[0.162,0.775],[0.163,0.78],[0.164,0.785],[0.1647,0.79]];
var servVA_blackSq = [[0.138,0.56],[0.1395,0.555],[0.141,0.55],[0.1425,0.549],[0.144,0.548],[0.1455,0.549],[0.147,0.55],[0.1485,0.565],[0.15,0.58],[0.151,0.59],[0.152,0.6],[0.1535,0.61],[0.155,0.62],[0.1565,0.63],[0.158,0.64],[0.1595,0.65],[0.161,0.66],[0.1625,0.665],[0.164,0.67],[0.1655,0.675],[0.167,0.68],[0.1685,0.685],[0.17,0.69],[0.1715,0.692],[0.173,0.695],[0.1745,0.697],[0.176,0.7]];
var servVA_blackDia = [[0.121,0.65],[0.1225,0.651],[0.124,0.652],[0.1255,0.653],[0.127,0.654],[0.1285,0.654],[0.13,0.655],[0.1315,0.655],[0.133,0.655],[0.1345,0.657],[0.136,0.66],[0.1375,0.662],[0.139,0.665],[0.1405,0.667],[0.142,0.67],[0.1435,0.675],[0.145,0.68],[0.1465,0.685],[0.148,0.69],[0.1495,0.695],[0.151,0.7],[0.1525,0.705],[0.154,0.71],[0.1555,0.715],[0.157,0.72],[0.1585,0.725],[0.16,0.73],[0.1615,0.735],[0.163,0.74],[0.1645,0.745],[0.166,0.75],[0.1675,0.755],[0.169,0.76],[0.1705,0.765],[0.1717,0.771]];
var servVA_blackPlus = [[0.1303,0.57],[0.133,0.575],[0.136,0.58],[0.139,0.575],[0.142,0.56],[0.145,0.565],[0.148,0.57],[0.151,0.57],[0.154,0.58],[0.157,0.6],[0.16,0.61],[0.162,0.625]];
var servVA_hollowCirc = [[0.1007,0.609],[0.104,0.62],[0.107,0.635],[0.1099,0.647],[0.113,0.655],[0.116,0.665],[0.119,0.675],[0.1211,0.684],[0.124,0.695],[0.127,0.71],[0.13,0.73],[0.1338,0.747],[0.1366,0.753],[0.1394,0.757],[0.1422,0.759],[0.145,0.759]];
var servVA_hollowTri = [[0.15,0.64],[0.155,0.65],[0.16,0.66],[0.165,0.67],[0.1717,0.678],[0.174,0.672],[0.1774,0.665],[0.178,0.68]];

// ---------- styling ----------
var FONT = '"Liberation Sans", Arial, Helvetica, sans-serif';
var GRAY = '#8a8a8a';
var GRID = '#e6eef1';

function mk(style, r, fill, stroke, bw) {
  return { pointStyle: style, pointRadius: r, backgroundColor: fill, borderColor: stroke, borderWidth: bw };
}
var markerStyle = {
  grayX:     mk('crossRot', 2.7, GRAY, GRAY, 1),
  grayTriA:  mk('triangle', 4.4, GRAY, GRAY, 0.5),
  grayTriB:  mk('triangle', 4.4, GRAY, GRAY, 0.5),
  grayCirc:  mk('circle', 3.3, GRAY, GRAY, 0.5),
  grayCirc2: mk('circle', 3.3, GRAY, GRAY, 0.5),
  graySq:    mk('rect', 3.9, GRAY, GRAY, 0.5),
  grayDia:   mk('rectRot', 4, GRAY, GRAY, 0.5),
  grayDia2:  mk('rectRot', 4, GRAY, GRAY, 0.5),
  grayStar:  mk('crossRot', 4, GRAY, GRAY, 1.3),
  grayPlus:  mk('cross', 3.8, GRAY, GRAY, 1.3),
  blackTri:  mk('triangle', 4.4, '#000', '#000', 0.5),
  blackX:    mk('crossRot', 4.4, '#000', '#000', 1.25),
  hollowDiaA: mk('rectRot', 3.5, '#fff', '#000', 1),
  hollowDiaB: mk('rectRot', 3.5, '#fff', '#000', 1),
  blackCirc: mk('circle', 3.3, '#000', '#000', 0.5),
  blackSq:   mk('rect', 3.9, '#000', '#000', 0.5),
  blackDia:  mk('rectRot', 4, '#000', '#000', 0.5),
  blackPlus: mk('cross', 4, '#000', '#000', 1.3),
  blackPlus2: mk('cross', 3.4, '#000', '#000', 1.1),
  hollowCirc: mk('circle', 2.8, '#fff', '#000', 1),
  hollowTri: mk('triangle', 3.7, '#fff', '#000', 1)
};

var X_MIN = 0.0287, X_MAX = 0.2145;

function makePanel(id, title, yTitle, yMin, yMax, gridVals, series) {
  var datasets = series.map(function (s) {
    var ds = Object.assign({}, markerStyle[s[0]]);
    ds.data = s[1].map(function (p) { return { x: p[0], y: p[1] }; });
    ds.pointHoverRadius = ds.pointRadius;
    return ds;
  });
  datasets.reverse(); // dataset 0 is painted last, so black markers end up on top

  new Chart(document.getElementById(id), {
    type: 'scatter',
    data: { datasets: datasets },
    options: {
      responsive: false,
      animation: false,
      layout: { padding: 0, autoPadding: false },
      plugins: {
        legend: { display: false },
        tooltip: { enabled: false },
        title: { display: true, text: title, color: '#000', fullSize: false,
                 font: { family: FONT, size: 18, weight: 'normal' },
                 padding: { top: 2, bottom: 7.4 } }
      },
      scales: {
        x: {
          type: 'linear', min: X_MIN, max: X_MAX,
          afterBuildTicks: function (s) { s.ticks = xTickValues.map(function (v) { return { value: v }; }); },
          afterFit: function (s) { s.height = 58; },
          ticks: { autoSkip: false, minRotation: 0, maxRotation: 0, padding: 3.2, color: '#000',
                   font: { family: FONT, size: 18 },
                   callback: function (v, i) { return xTickLabels[i]; } },
          grid: { drawOnChartArea: false, tickLength: 8, tickColor: '#000', tickWidth: 1.3 },
          border: { color: '#000', width: 1.3 },
          title: { display: true, text: 'Share of population 65+', color: '#000',
                   font: { family: FONT, size: 19 }, padding: { top: 0, bottom: 2.6 } }
        },
        y: {
          type: 'linear', min: yMin, max: yMax,
          afterBuildTicks: function (s) { s.ticks = yTickValues.map(function (v) { return { value: v }; }); },
          afterFit: function (s) { s.width = 67; },
          ticks: { autoSkip: false, minRotation: 90, maxRotation: 90, crossAlign: 'center', padding: 10.5,
                   color: '#000', font: { family: FONT, size: 18 },
                   callback: function (v, i) { return yTickLabels[i]; } },
          grid: {
            color: function (c) { return (c.tick && gridVals.indexOf(c.tick.value) >= 0) ? GRID : 'rgba(0,0,0,0)'; },
            lineWidth: 1.6, tickLength: 8, tickColor: '#000', tickWidth: 1.3
          },
          border: { color: '#000', width: 1.3 },
          title: { display: true, text: yTitle, color: '#000',
                   font: { family: FONT, size: 19 }, padding: { top: 6.5, bottom: 0 } }
        }
      }
    }
  });
}

makePanel('agriHours', 'Agriculture', 'Share in hours worked', -0.052, 0.852, [0, 0.2, 0.4, 0.6], [
  ['grayX', agriHours_grayX], ['grayTriA', agriHours_grayTriA], ['grayCirc', agriHours_grayCirc],
  ['graySq', agriHours_graySq], ['grayDia', agriHours_grayDia], ['grayStar', agriHours_grayStar],
  ['grayPlus', agriHours_grayPlus], ['grayTriB', agriHours_grayTriB],
  ['hollowCirc', agriHours_hollowCirc], ['hollowTri', agriHours_hollowTri],
  ['blackPlus', agriHours_blackPlus], ['blackDia', agriHours_blackDia], ['blackSq', agriHours_blackSq],
  ['blackCirc', agriHours_blackCirc], ['hollowDiaB', agriHours_hollowDiaB], ['hollowDiaA', agriHours_hollowDiaA],
  ['blackX', agriHours_blackX], ['blackTri', agriHours_blackTri]
]);

makePanel('agriVA', 'Agriculture', 'Share in value added', -0.052, 0.852, [0, 0.2, 0.4, 0.6], [
  ['grayX', agriVA_grayX], ['grayTriA', agriVA_grayTriA], ['grayCirc', agriVA_grayCirc],
  ['graySq', agriVA_graySq], ['grayDia', agriVA_grayDia], ['grayStar', agriVA_grayStar],
  ['grayPlus', agriVA_grayPlus], ['grayTriB', agriVA_grayTriB],
  ['hollowCirc', agriVA_hollowCirc], ['hollowTri', agriVA_hollowTri],
  ['blackPlus', agriVA_blackPlus], ['blackDia', agriVA_blackDia], ['blackSq', agriVA_blackSq],
  ['blackCirc', agriVA_blackCirc], ['hollowDiaB', agriVA_hollowDiaB], ['hollowDiaA', agriVA_hollowDiaA],
  ['blackX', agriVA_blackX], ['blackTri', agriVA_blackTri]
]);

makePanel('manufHours', 'Manufacturing', 'Share in hours worked', -0.052, 0.852, [0.2, 0.4, 0.6], [
  ['grayX', manufHours_grayX], ['grayTriA', manufHours_grayTriA], ['grayCirc', manufHours_grayCirc],
  ['graySq', manufHours_graySq], ['grayDia', manufHours_grayDia], ['grayStar', manufHours_grayStar],
  ['grayPlus', manufHours_grayPlus], ['grayTriB', manufHours_grayTriB],
  ['hollowCirc', manufHours_hollowCirc], ['hollowTri', manufHours_hollowTri],
  ['blackPlus', manufHours_blackPlus], ['blackDia', manufHours_blackDia], ['blackSq', manufHours_blackSq],
  ['blackCirc', manufHours_blackCirc], ['hollowDiaB', manufHours_hollowDiaB], ['hollowDiaA', manufHours_hollowDiaA],
  ['blackX', manufHours_blackX], ['blackTri', manufHours_blackTri]
]);

makePanel('manufVA', 'Manufacturing', 'Share in value added', -0.052, 0.852, [0.2, 0.4, 0.6], [
  ['grayX', manufVA_grayX], ['grayTriA', manufVA_grayTriA], ['grayCirc', manufVA_grayCirc],
  ['graySq', manufVA_graySq], ['grayDia', manufVA_grayDia], ['grayStar', manufVA_grayStar],
  ['grayPlus', manufVA_grayPlus], ['grayTriB', manufVA_grayTriB],
  ['hollowCirc', manufVA_hollowCirc], ['hollowTri', manufVA_hollowTri],
  ['blackPlus', manufVA_blackPlus], ['blackDia', manufVA_blackDia], ['blackSq', manufVA_blackSq],
  ['blackCirc', manufVA_blackCirc], ['hollowDiaB', manufVA_hollowDiaB], ['hollowDiaA', manufVA_hollowDiaA],
  ['blackX', manufVA_blackX], ['blackTri', manufVA_blackTri]
]);

makePanel('servHours', 'Services', 'Share in hours worked', -0.052, 0.852, [0.2, 0.4, 0.6, 0.8], [
  ['grayX', servHours_grayX], ['grayTriA', servHours_grayTriA], ['grayCirc', servHours_grayCirc],
  ['graySq', servHours_graySq], ['grayDia', servHours_grayDia], ['grayDia2', servHours_grayDia2],
  ['grayStar', servHours_grayStar], ['grayPlus', servHours_grayPlus], ['grayTriB', servHours_grayTriB],
  ['hollowCirc', servHours_hollowCirc], ['hollowTri', servHours_hollowTri],
  ['blackPlus2', servHours_blackPlus2], ['blackPlus', servHours_blackPlus], ['blackDia', servHours_blackDia],
  ['blackSq', servHours_blackSq], ['blackCirc', servHours_blackCirc], ['hollowDiaB', servHours_hollowDiaB],
  ['hollowDiaA', servHours_hollowDiaA], ['blackX', servHours_blackX], ['blackTri', servHours_blackTri]
]);

makePanel('servVA', 'Services', 'Share in value added', -0.056, 0.909, [0.2, 0.4, 0.6, 0.8], [
  ['grayX', servVA_grayX], ['grayTriA', servVA_grayTriA], ['grayCirc', servVA_grayCirc],
  ['grayCirc2', servVA_grayCirc2], ['graySq', servVA_graySq], ['grayDia', servVA_grayDia],
  ['grayStar', servVA_grayStar], ['grayPlus', servVA_grayPlus], ['grayTriB', servVA_grayTriB],
  ['hollowCirc', servVA_hollowCirc], ['hollowTri', servVA_hollowTri],
  ['blackPlus', servVA_blackPlus], ['blackDia', servVA_blackDia], ['blackSq', servVA_blackSq],
  ['blackCirc', servVA_blackCirc], ['hollowDiaB', servVA_hollowDiaB], ['hollowDiaA', servVA_hollowDiaA],
  ['blackX', servVA_blackX], ['blackTri', servVA_blackTri]
]);
</script>
</body>
</html>
